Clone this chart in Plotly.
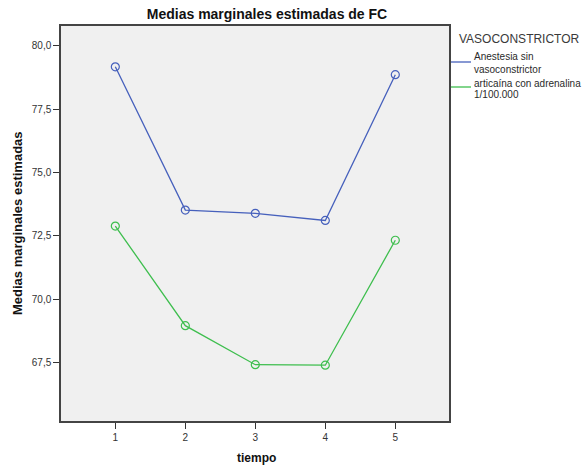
import plotly.graph_objects as go

# Estimated marginal means of FC by time point and vasoconstrictor group
tiempo = [1, 2, 3, 4, 5]
sin_vasoconstrictor = [79.17, 73.52, 73.39, 73.11, 78.86]
con_adrenalina = [72.89, 68.96, 67.42, 67.40, 72.33]

series_names = ["Anestesia sin<br>vasoconstrictor", "articaína con adrenalina<br>1/100.000"]
series_colors = ["#4660bc", "#3ebe4e"]
y_ticks = [67.5, 70.0, 72.5, 75.0, 77.5, 80.0]
y_tick_text = [f"{v:.1f}".replace(".", ",") for v in y_ticks]

FONT = "Liberation Sans, Arial, sans-serif"

fig = go.Figure()
for name, vals, col in zip(series_names, [sin_vasoconstrictor, con_adrenalina], series_colors):
    fig.add_trace(go.Scatter(
        x=tiempo, y=vals, name=name, mode="lines+markers",
        line=dict(color=col, width=1.3),
        marker=dict(symbol="circle-open", size=8, color=col, line=dict(width=1.2)),
        showlegend=False,
    ))

W, H = 584, 468
L, R, T, B = 61, 135, 26, 47
pw, ph = W - L - R, H - T - B


def px(x):
    return (x - L) / pw


def py(y):
    return (H - B - y) / ph


# Legend drawn beside the plot: title, short line samples and wrapped labels
legend_title = "VASOCONSTRICTOR"
legend_lines = [["Anestesia sin", "vasoconstrictor"], ["articaína con adrenalina", "1/100.000"]]
legend_text_y = [[57, 69], [83, 94]]
legend_sample_y = [62, 87]

annotations = [dict(
    text=legend_title, xref="paper", yref="paper", x=px(457), y=py(39),
    xanchor="left", yanchor="middle", showarrow=False,
    font=dict(family=FONT, size=12, color="#3a3a3a"),
)]
shapes = []
for lines, ys, sy, col in zip(legend_lines, legend_text_y, legend_sample_y, series_colors):
    shapes.append(dict(type="line", xref="paper", yref="paper",
                       x0=px(451), x1=px(471), y0=py(sy), y1=py(sy),
                       line=dict(color=col, width=1.3)))
    for t, yy in zip(lines, ys):
        annotations.append(dict(
            text=t, xref="paper", yref="paper", x=px(472), y=py(yy),
            xanchor="left", yanchor="middle", showarrow=False,
            font=dict(family=FONT, size=10, color="#2a2a2a"),
        ))

# Axis titles placed beside the plot area
annotations.append(dict(
    text="<b>tiempo</b>", xref="paper", yref="paper", x=px(256), y=py(458),
    xanchor="center", yanchor="middle", showarrow=False,
    font=dict(family=FONT, size=12, color="#111111"),
))
annotations.append(dict(
    text="<b>Medias marginales estimadas</b>", xref="paper", yref="paper", x=px(17), y=py(223),
    xanchor="center", yanchor="middle", showarrow=False, textangle=-90,
    font=dict(family=FONT, size=13, color="#111111"),
))

fig.update_layout(
    width=W, height=H,
    margin=dict(l=L, r=R, t=T, b=B, pad=0),
    paper_bgcolor="white", plot_bgcolor="#f0f0f0",
    font=dict(family=FONT, color="#333333"),
    title=dict(text="<b>Medias marginales estimadas de FC</b>", x=267 / W, xanchor="center",
               y=1 - 14 / H, yanchor="middle", font=dict(family=FONT, size=14, color="#111111")),
    xaxis=dict(
        range=[0.224, 5.767], tickvals=tiempo, ticktext=[str(t) for t in tiempo],
        showgrid=False, zeroline=False, showline=True, mirror=True, automargin=False,
        linecolor="#444444", linewidth=1.5,
        ticks="outside", ticklen=6, tickcolor="#333333", tickwidth=1,
        tickfont=dict(family=FONT, size=10, color="#333333"),
    ),
    yaxis=dict(
        range=[65.20, 80.78], tickvals=y_ticks, ticktext=y_tick_text,
        showgrid=False, zeroline=False, showline=True, mirror=True, automargin=False,
        linecolor="#444444", linewidth=1.5,
        ticks="outside", ticklen=6, tickcolor="#333333", tickwidth=1,
        tickfont=dict(family=FONT, size=10, color="#333333"),
    ),
    annotations=annotations,
    shapes=shapes,
)

fig.write_html("out.html")
